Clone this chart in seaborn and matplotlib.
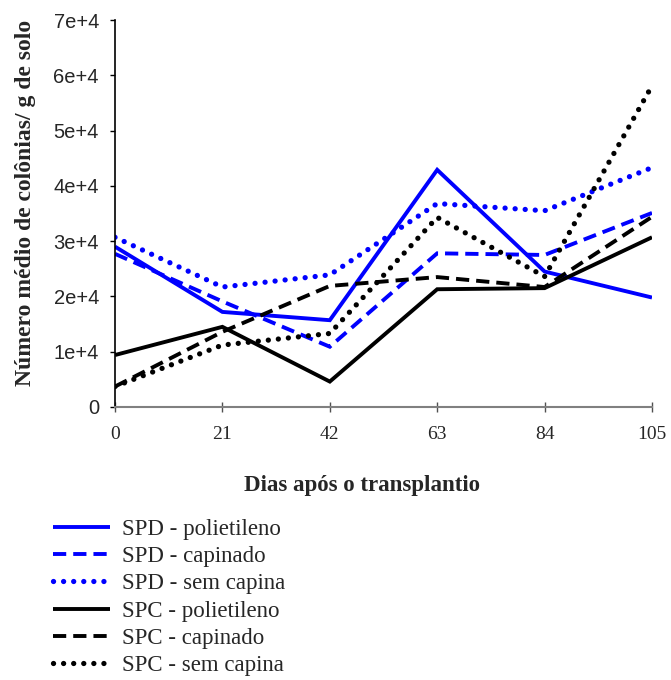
import matplotlib
matplotlib.use("Agg")
import matplotlib.pyplot as plt
import seaborn as sns
import pandas as pd

dias = [0, 21, 42, 63, 84, 105]
spd_polietileno = [2.90e4, 1.72e4, 1.57e4, 4.29e4, 2.45e4, 1.98e4]
spd_capinado = [2.77e4, 1.91e4, 1.09e4, 2.78e4, 2.75e4, 3.51e4]
spd_sem_capina = [3.07e4, 2.17e4, 2.39e4, 3.68e4, 3.55e4, 4.33e4]
spc_polietileno = [0.94e4, 1.45e4, 0.46e4, 2.13e4, 2.15e4, 3.07e4]
spc_capinado = [0.37e4, 1.36e4, 2.19e4, 2.35e4, 2.17e4, 3.44e4]
spc_sem_capina = [0.37e4, 1.12e4, 1.33e4, 3.43e4, 2.36e4, 5.81e4]

series_names = ["SPD - polietileno", "SPD - capinado", "SPD - sem capina",
                "SPC - polietileno", "SPC - capinado", "SPC - sem capina"]
series_values = [spd_polietileno, spd_capinado, spd_sem_capina,
                 spc_polietileno, spc_capinado, spc_sem_capina]
colors = ["#0000FF", "#0000FF", "#0000FF", "#000000", "#000000", "#000000"]
kinds = ["solid", "dashed", "dotted", "solid", "dashed", "dotted"]

y_ticks = [0, 1e4, 2e4, 3e4, 4e4, 5e4, 6e4, 7e4]
y_tick_labels = ["0", "1e+4", "2e+4", "3e+4", "4e+4", "5e+4", "6e+4", "7e+4"]

sns.set_style("white")
plt.rcParams["font.family"] = ["Liberation Serif", "DejaVu Serif"]

fig = plt.figure(figsize=(6.71, 6.80), dpi=100)
ax = fig.add_axes([115 / 671, 1 - 407 / 680, (652 - 115) / 671, (407 - 20) / 680])

for name, vals, c, k in zip(series_names, series_values, colors, kinds):
    df = pd.DataFrame({"dias": dias, "valor": vals})
    sns.lineplot(data=df, x="dias", y="valor", ax=ax, color=c,
                 label=name, legend=False)
    line = ax.get_lines()[-1]
    if k == "solid":
        line.set_linewidth(2.8)
        line.set_linestyle("-")
        line.set_solid_capstyle("butt")
    elif k == "dashed":
        line.set_linewidth(2.8)
        line.set_linestyle((0, (3.4, 1.8)))
        line.set_dash_capstyle("butt")
    else:
        line.set_linewidth(3.8)
        line.set_linestyle((0, (0.01, 1.9)))
        line.set_dash_capstyle("round")
    line.set_solid_joinstyle("miter")
    line.set_dash_joinstyle("miter")

ax.set_xlim(0, 105)
ax.set_ylim(0, 7e4)
ax.set_xticks(dias)
ax.set_xticklabels([str(d) for d in dias], fontsize=14, family="Liberation Serif")
ax.set_yticks(y_ticks)
ax.set_yticklabels(y_tick_labels, fontsize=14.5, family="Liberation Sans")

for s in ["top", "right"]:
    ax.spines[s].set_visible(False)
ax.spines["left"].set_color("black")
ax.spines["bottom"].set_color("#808080")
ax.spines["left"].set_linewidth(1.2)
ax.spines["bottom"].set_linewidth(1.5)
ax.tick_params(axis="y", direction="out", length=3.6, width=1, color="black", pad=8, left=True)
ax.tick_params(axis="x", direction="inout", length=7, width=1, color="#505050", pad=10, bottom=True)

ax.set_xlabel("Dias após o transplantio", fontsize=16.5, fontweight="bold")
ax.xaxis.set_label_coords((362 - 115) / 537, (407 - 475) / 387)
ax.set_ylabel("Número médio de colônias/ g de solo", fontsize=17, fontweight="bold")
ax.yaxis.set_label_coords((36 - 115) / 537, (407 - 203) / 387)

handles = ax.get_lines()
fig.legend(handles, series_names, loc="upper left", bbox_to_anchor=(53 / 671, 1 - 519 / 680),
           frameon=False, fontsize=16.5, handlelength=2.49, handletextpad=0.52,
           labelspacing=0.27, borderpad=0, borderaxespad=0)

fig.savefig("out.png", dpi=100)
